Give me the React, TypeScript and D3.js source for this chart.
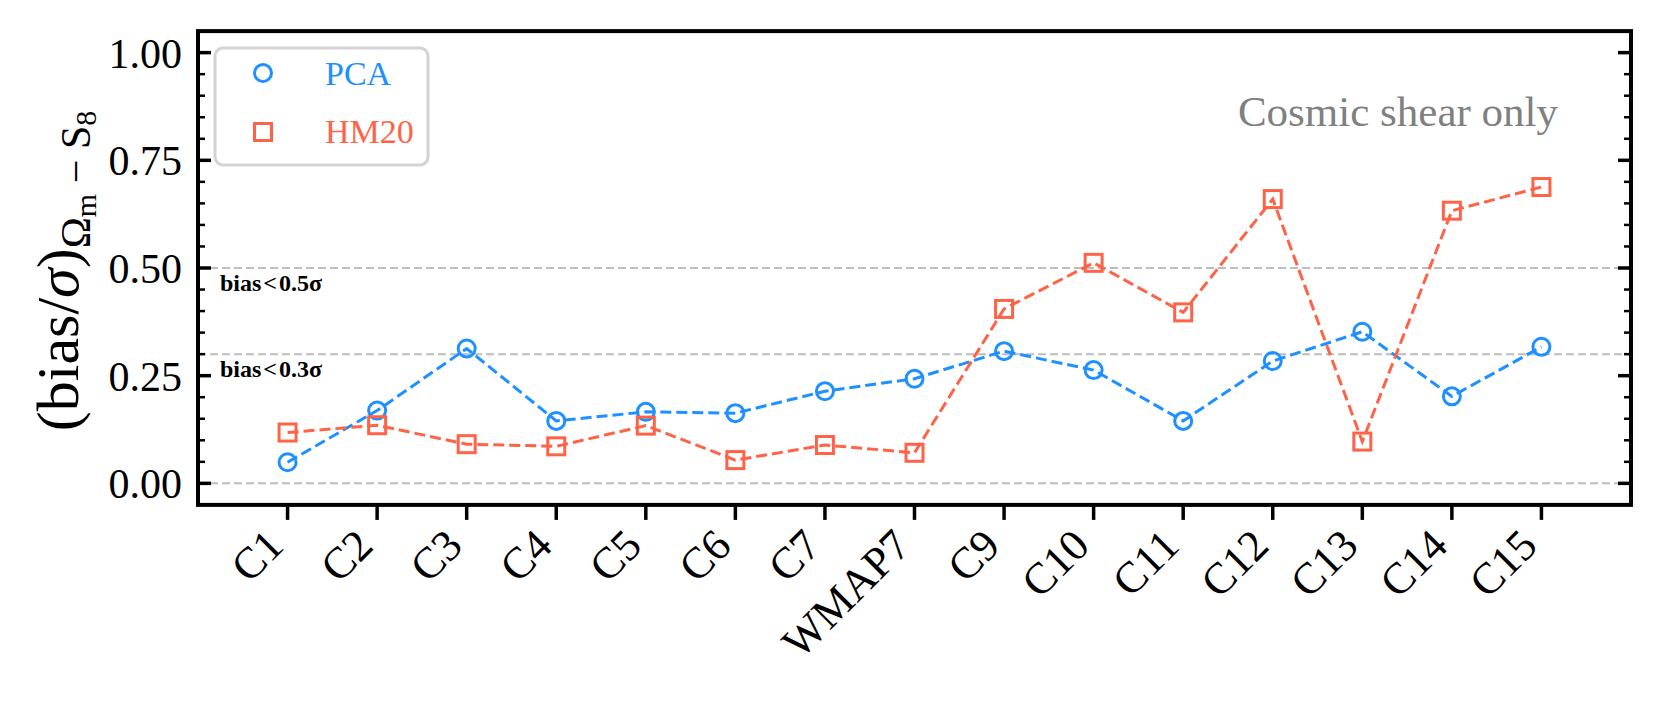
import React from "react";
import * as d3 from "d3";

const categories = ["C1", "C2", "C3", "C4", "C5", "C6", "C7", "WMAP7", "C9", "C10", "C11", "C12", "C13", "C14", "C15"];
const pcaValues = [0.049, 0.169, 0.313, 0.145, 0.166, 0.163, 0.214, 0.243, 0.307, 0.263, 0.145, 0.284, 0.352, 0.202, 0.317];
const hm20Values = [0.118, 0.135, 0.091, 0.086, 0.134, 0.054, 0.089, 0.071, 0.405, 0.512, 0.397, 0.66, 0.097, 0.633, 0.688];
const yMajorTicks = [0, 0.25, 0.5, 0.75, 1.0];
const thresholdLines = [0, 0.3, 0.5];
const thresholdLabels = [
  { value: 0.5, text: "bias\u200A<\u200A0.5σ" },
  { value: 0.3, text: "bias\u200A<\u200A0.3σ" },
];
const seriesNames = ["PCA", "HM20"];

const W = 1662;
const H = 703;
const LEFT = 198;
const RIGHT = 1631;
const TOP = 31.1;
const BOTTOM = 504.9;
const BLUE = "#1E90FF";
const RED = "#FF6347";
const FONT = "'Liberation Serif', 'Times New Roman', serif";

export default function App() {
  const x = d3.scaleLinear().domain([-1, categories.length]).range([LEFT, RIGHT]);
  const y = d3.scaleLinear().domain([-0.05, 1.05]).range([BOTTOM, TOP]);
  const minorTicks = d3.range(1, 21).map((i) => i * 0.05).filter((v) => Math.abs((v / 0.25) - Math.round(v / 0.25)) > 1e-6);

  const line = d3
    .line<number>()
    .x((_, i) => x(i))
    .y((d) => y(d));

  const YL = 60;

  return (
    <div style={{ position: "absolute", left: 0, top: 0 }}>
      <svg width={W} height={H} style={{ display: "block", background: "#fff" }} fontFamily={FONT}>
        <rect x={0} y={0} width={W} height={H} fill="#fff" />
        {/* threshold grid lines */}
        {thresholdLines.map((v) => (
          <line key={"g" + v} x1={LEFT} x2={RIGHT} y1={y(v)} y2={y(v)} stroke="#bdbdbd" strokeWidth={2} strokeDasharray="8,4" />
        ))}
        {thresholdLabels.map((t) => (
          <text key={"tl" + t.value} x={220} y={y(t.value) + 23} fontSize={24} fontWeight="bold" fill="#000">
            {t.text}
          </text>
        ))}
        {/* series lines */}
        <path d={line(pcaValues) || ""} fill="none" stroke={BLUE} strokeWidth={3} strokeDasharray="11,5" />
        <path d={line(hm20Values) || ""} fill="none" stroke={RED} strokeWidth={3} strokeDasharray="11,5" />
        {pcaValues.map((v, i) => (
          <circle key={"p" + i} cx={x(i)} cy={y(v)} r={8.5} fill="none" stroke={BLUE} strokeWidth={3} />
        ))}
        {hm20Values.map((v, i) => (
          <rect key={"h" + i} x={x(i) - 8.5} y={y(v) - 8.5} width={17} height={17} fill="none" stroke={RED} strokeWidth={3} />
        ))}
        {/* y ticks */}
        {yMajorTicks.map((v) => (
          <g key={"ym" + v}>
            <line x1={LEFT} x2={LEFT + 13} y1={y(v)} y2={y(v)} stroke="#000" strokeWidth={3.5} />
            <line x1={RIGHT - 13} x2={RIGHT} y1={y(v)} y2={y(v)} stroke="#000" strokeWidth={3.5} />
            <text x={182} y={y(v) + 15} fontSize={42} textAnchor="end" fill="#000">
              {v.toFixed(2)}
            </text>
          </g>
        ))}
        {minorTicks.map((v) => (
          <g key={"yn" + v}>
            <line x1={LEFT} x2={LEFT + 7} y1={y(v)} y2={y(v)} stroke="#000" strokeWidth={2.5} />
            <line x1={RIGHT - 7} x2={RIGHT} y1={y(v)} y2={y(v)} stroke="#000" strokeWidth={2.5} />
          </g>
        ))}
        {/* x ticks */}
        {categories.map((c, i) => (
          <g key={"xt" + c}>
            <line x1={x(i)} x2={x(i)} y1={BOTTOM} y2={BOTTOM + 15} stroke="#000" strokeWidth={3.5} />
            <text
              transform={`translate(${x(i) - 2},${548}) rotate(-45)`}
              fontSize={44}
              textAnchor="end"
              fill="#000"
            >
              {c}
            </text>
          </g>
        ))}
        {/* frame */}
        <rect x={LEFT} y={TOP} width={RIGHT - LEFT} height={BOTTOM - TOP} fill="none" stroke="#000" strokeWidth={4} />
        {/* legend */}
        <rect x={215} y={48} width={213} height={117} rx={8} ry={8} fill="#fff" fillOpacity={0.8} stroke="#d3d3d3" strokeWidth={3} />
        <circle cx={263} cy={73} r={8.5} fill="none" stroke={BLUE} strokeWidth={3} />
        <text x={325} y={85} fontSize={34} fill={BLUE}>{seriesNames[0]}</text>
        <rect x={254.5} y={123.5} width={17} height={17} fill="none" stroke={RED} strokeWidth={3} />
        <text x={325} y={143} fontSize={34} fill={RED}>{seriesNames[1]}</text>
        {/* annotation */}
        <text x={1558} y={126} fontSize={43} textAnchor="end" fill="#808080">Cosmic shear only</text>
        {/* y label */}
        <text transform={`translate(78,271) rotate(-90)`} fontSize={YL} textAnchor="middle" fill="#000">
          <tspan>(bias/</tspan>
          <tspan fontStyle="italic">σ</tspan>
          <tspan>)</tspan>
          <tspan fontSize={YL * 0.7} dy={YL * 0.2}>Ω</tspan>
          <tspan fontSize={YL * 0.5} dy={YL * 0.1}>m</tspan>
          <tspan fontSize={YL * 0.7} dy={-YL * 0.1}> − S</tspan>
          <tspan fontSize={YL * 0.5} dy={YL * 0.1}>8</tspan>
        </text>
      </svg>
    </div>
  );
}
